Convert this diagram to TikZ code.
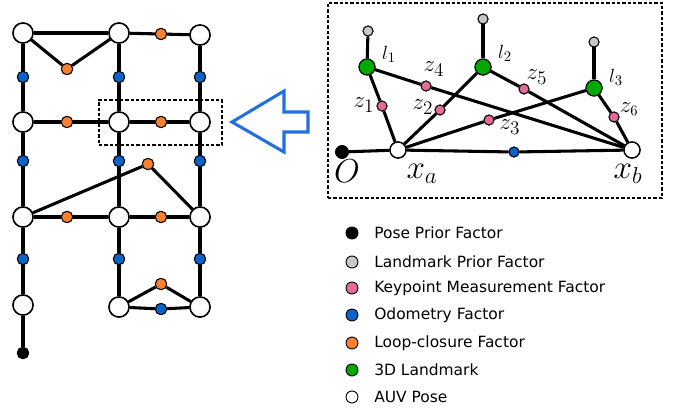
\documentclass[tikz,border=0pt]{standalone}
\usepackage{fontspec}
\newfontfamily\legfont{DejaVu Sans}
\definecolor{orangeF}{HTML}{F7812F}
\definecolor{blueF}{HTML}{0A64C8}
\definecolor{greenF}{HTML}{00A800}
\definecolor{pinkF}{HTML}{E56C9A}
\definecolor{grayF}{HTML}{C8C8C8}
\definecolor{arrowB}{HTML}{2270E0}
\tikzset{
  edge/.style={line width=2.3pt, black},
  pose/.style={circle, draw=black, fill=white, line width=1.1pt, minimum size=15pt, inner sep=0pt},
  posesm/.style={circle, draw=black, fill=white, line width=1pt, minimum size=12pt, inner sep=0pt},
  fac/.style={circle, draw=black, line width=0.7pt, minimum size=8.5pt, inner sep=0pt},
  facsm/.style={circle, draw=black, line width=0.7pt, minimum size=7.5pt, inner sep=0pt},
  odo/.style={fac, fill=blueF},
  loop/.style={fac, fill=orangeF},
  prior/.style={fac, fill=black},
  lmk/.style={circle, draw=black, line width=0.8pt, fill=greenF, minimum size=12pt, inner sep=0pt},
  lprior/.style={facsm, fill=grayF},
  kp/.style={facsm, fill=pinkF},
  odosm/.style={facsm, fill=blueF},
  boxd/.style={draw=black, line width=1.1pt, dash pattern=on 2.5pt off 1.5pt},
  lgc/.style={circle, draw=black, line width=0.7pt, minimum size=9pt, inner sep=0pt},
  lgt/.style={anchor=west, font=\legfont\fontsize{11.6}{13}\selectfont, inner sep=0pt},
  lbl/.style={font=\fontsize{15}{17}\selectfont, inner sep=0pt},
  zlbl/.style={font=\fontsize{19}{21}\selectfont, inner sep=0pt},
  xlbl/.style={font=\fontsize{25}{27}\selectfont, inner sep=0pt},
}
\begin{document}
\begin{tikzpicture}[x=0.75pt,y=-0.75pt]
\useasboundingbox (0,0) rectangle (681,411);
% ---------- left graph ----------
\node[pose] (A1) at (23,33) {};
\node[pose] (B1) at (119,33) {};
\node[pose] (C1) at (200,35) {};
\node[pose] (A2) at (23,122) {};
\node[pose] (B2) at (119,122) {};
\node[pose] (C2) at (200,122) {};
\node[pose] (A3) at (23,217) {};
\node[pose] (B3) at (119,217) {};
\node[pose] (C3) at (200,217) {};
\node[pose] (A4) at (23,305) {};
\node[pose] (B4) at (119,307) {};
\node[pose] (C4) at (200,307) {};
\node[prior] (P0) at (23,353) {};
% factors
\node[loop] (L1) at (67,69) {};
\node[loop] (L2) at (161,34) {};
\node[odo] (O1) at (23,77) {};
\node[odo] (O2) at (119,77) {};
\node[odo] (O3) at (200,77) {};
\node[loop] (L3) at (67,122) {};
\node[loop] (L4) at (161,122) {};
\node[odo] (O4) at (23,161) {};
\node[odo] (O5) at (119,161) {};
\node[odo] (O6) at (200,161) {};
\node[loop] (L5) at (148,164) {};
\node[loop] (L6) at (67,217) {};
\node[loop] (L7) at (161,217) {};
\node[odo] (O7) at (23,259) {};
\node[odo] (O8) at (119,259) {};
\node[odo] (O9) at (200,259) {};
\node[loop] (L8) at (161,284) {};
\node[odo] (O10) at (161,309) {};
% edges
\draw[edge] (A1) -- (B1);
\draw[edge] (A1) -- (L1) -- (B1);
\draw[edge] (B1) -- (L2) -- (C1);
\draw[edge] (A1) -- (O1) -- (A2);
\draw[edge] (B1) -- (O2) -- (B2);
\draw[edge] (C1) -- (O3) -- (C2);
\draw[edge] (A2) -- (L3) -- (B2);
\draw[edge] (B2) -- (L4) -- (C2);
\draw[edge] (A2) -- (O4) -- (A3);
\draw[edge] (B2) -- (O5) -- (B3);
\draw[edge] (C2) -- (O6) -- (C3);
\draw[edge] (A3) -- (L5) -- (C3);
\draw[edge] (A3) -- (L6) -- (B3);
\draw[edge] (B3) -- (L7) -- (C3);
\draw[edge] (A3) -- (O7) -- (A4);
\draw[edge] (B3) -- (O8) -- (B4);
\draw[edge] (C3) -- (O9) -- (C4);
\draw[edge] (B4) -- (L8) -- (C4);
\draw[edge] (B4) -- (O10) -- (C4);
\draw[edge] (A4) -- (P0);
% redraw nodes on top
\foreach \n in {A1,B1,C1,A2,B2,C2,A3,B3,C3,A4,B4,C4}{\node[pose] at (\n) {};}
\foreach \n in {L1,L2,L3,L4,L5,L6,L7,L8}{\node[loop] at (\n) {};}
\foreach \n in {O1,O2,O3,O4,O5,O6,O7,O8,O9,O10}{\node[odo] at (\n) {};}
\node[prior] at (P0) {};
% dashed box
\node[boxd, minimum width=92.25pt, minimum height=33.75pt, inner sep=0pt] (selbox) at (160.5,122.5) {};
% ---------- arrow ----------
\coordinate (tip) at (232,122);
\draw[arrowB, line width=2.3pt, line join=miter] (tip) -- (284,91) -- (284,112) -- (308,112) -- (308,132) -- (284,132) -- (284,152) -- cycle;
% ---------- inset ----------
\node[boxd, minimum width=250.5pt, minimum height=146.25pt, inner sep=0pt] (inset) at (495,100.5) {};
\node[posesm] (xa) at (398,150) {};
\node[posesm] (xb) at (632,150) {};
\node[prior, minimum size=9.5pt] (O) at (342,152) {};
\node[odosm] (ob) at (514,152) {};
\node[lmk] (l1) at (367,67) {};
\node[lmk] (l2) at (483,67) {};
\node[lmk] (l3) at (594,88) {};
\node[lprior] (g1) at (368,31) {};
\node[lprior] (g2) at (483,19) {};
\node[lprior] (g3) at (594,42) {};
\node[kp] (z1) at (382,106) {};
\node[kp] (z4) at (426,86) {};
\node[kp] (z2) at (440,110) {};
\node[kp] (z5) at (524,89) {};
\node[kp] (z3) at (489,120) {};
\node[kp] (z6) at (614,117) {};
\draw[edge] (O) -- (xa);
\draw[edge] (xa) -- (ob) -- (xb);
\draw[edge] (g1) -- (l1);
\draw[edge] (g2) -- (l2);
\draw[edge] (g3) -- (l3);
\draw[edge] (l1) -- (z1) -- (xa);
\draw[edge] (l1) -- (z4) -- (xb);
\draw[edge] (xa) -- (z2) -- (l2);
\draw[edge] (l2) -- (z5) -- (xb);
\draw[edge] (xa) -- (z3) -- (l3);
\draw[edge] (l3) -- (z6) -- (xb);
\foreach \n in {xa,xb}{\node[posesm] at (\n) {};}
\node[prior, minimum size=9.5pt] at (O) {};
\node[odosm] at (ob) {};
\foreach \n in {l1,l2,l3}{\node[lmk] at (\n) {};}
\foreach \n in {g1,g2,g3}{\node[lprior] at (\n) {};}
\foreach \n in {z1,z2,z3,z4,z5,z6}{\node[kp] at (\n) {};}
% labels
\node[lbl] (tl1) at (389,54) {$l_1$};
\node[lbl] (tl2) at (505,53) {$l_2$};
\node[lbl] (tl3) at (616,77) {$l_3$};
\node[zlbl] (tz4) at (434,69) {$z_4$};
\node[zlbl] (tz5) at (537,77) {$z_5$};
\node[zlbl] (tz1) at (364,105) {$z_1$};
\node[zlbl] (tz2) at (423,107) {$z_2$};
\node[zlbl] (tz3) at (510,127) {$z_3$};
\node[font=\fontsize{16}{18}\selectfont, inner sep=0pt] (tz6) at (629,109) {$z_6$};
\node[xlbl] (tO) at (347,171) {$O$};
\node[xlbl] (txa) at (422,174) {$x_a$};
\node[xlbl] (txb) at (628,174) {$x_b$};
% ---------- legend ----------
\node[lgc, fill=black] (c1) at (352,233) {};
\node[lgc, fill=grayF] (c2) at (352,262) {};
\node[lgc, fill=pinkF] (c3) at (352,288) {};
\node[lgc, fill=blueF] (c4) at (352,315) {};
\node[lgc, fill=orangeF] (c5) at (352,343) {};
\node[lgc, fill=greenF] (c6) at (352,370) {};
\node[lgc, fill=white] (c7) at (352,397) {};
\node[lgt] (t1) at (374,233) {Pose Prior Factor};
\node[lgt] (t2) at (374,262) {Landmark Prior Factor};
\node[lgt] (t3) at (374,288) {Keypoint Measurement Factor};
\node[lgt] (t4) at (374,315) {Odometry Factor};
\node[lgt] (t5) at (374,343) {Loop-closure Factor};
\node[lgt] (t6) at (374,370) {3D Landmark};
\node[lgt] (t7) at (374,397) {AUV Pose};
\end{tikzpicture}
\end{document}
